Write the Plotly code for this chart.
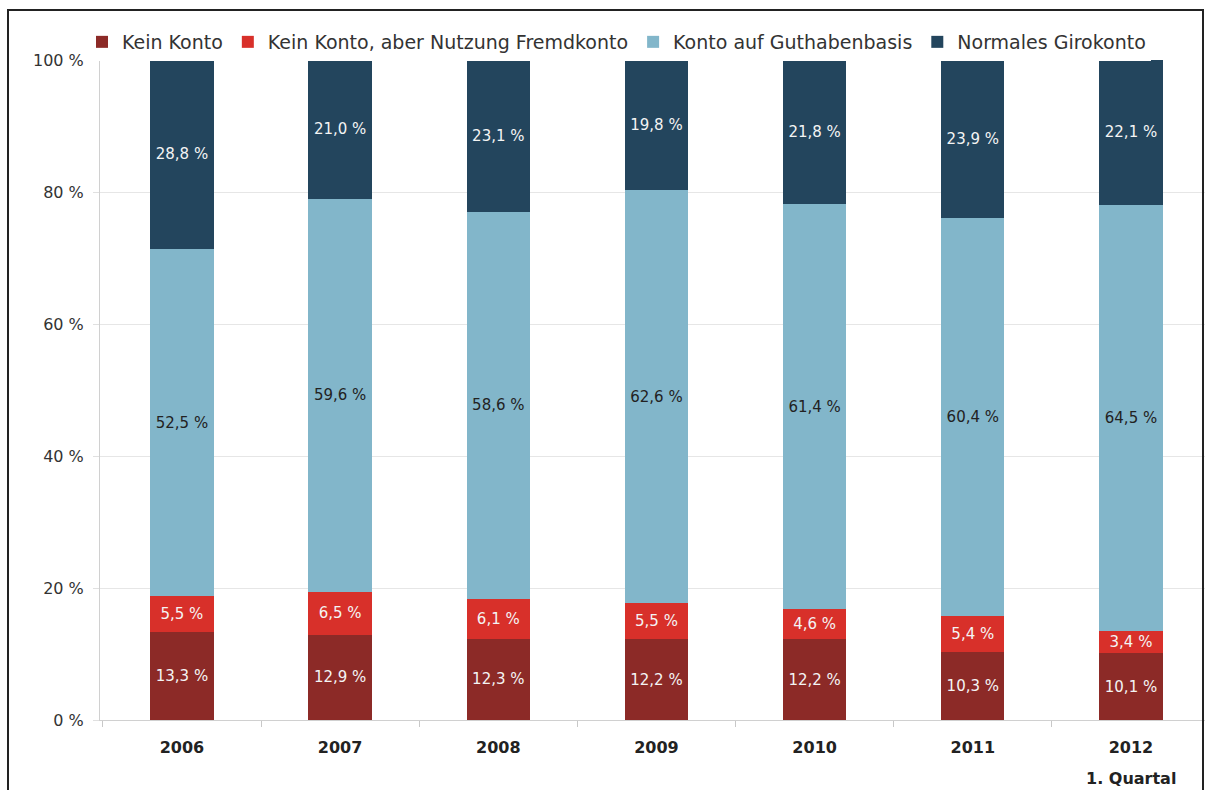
import plotly.graph_objects as go

categories = ["2006", "2007", "2008", "2009", "2010", "2011", "2012"]
tick_labels = ["<b>2006</b>", "<b>2007</b>", "<b>2008</b>", "<b>2009</b>", "<b>2010</b>", "<b>2011</b>", "<b>2012</b>"]
last_subtitle = "<b>1. Quartal</b>"
kein_konto = [13.3, 12.9, 12.3, 12.2, 12.2, 10.3, 10.1]
fremdkonto = [5.5, 6.5, 6.1, 5.5, 4.6, 5.4, 3.4]
guthaben = [52.5, 59.6, 58.6, 62.6, 61.4, 60.4, 64.5]
girokonto = [28.8, 21.0, 23.1, 19.8, 21.8, 23.9, 22.1]
y_ticks = [0, 20, 40, 60, 80, 100]
y_tick_labels = ["0 %", "20 %", "40 %", "60 %", "80 %", "100 %"]

series = [
    ("Kein Konto", kein_konto, "#8C2A27", "#f4f4f4"),
    ("Kein Konto, aber Nutzung Fremdkonto", fremdkonto, "#D8302A", "#f4f4f4"),
    ("Konto auf Guthabenbasis", guthaben, "#82B6CA", "#222222"),
    ("Normales Girokonto", girokonto, "#23455D", "#f4f4f4"),
]

FONT = "DejaVu Sans"

def fmt(v):
    return f"{v:.1f}".replace(".", ",") + " %"

fig = go.Figure()
for name, vals, color, tcolor in series:
    fig.add_trace(go.Bar(
        name=name, x=categories, y=vals,
        marker=dict(color=color, line=dict(width=0)),
        text=[fmt(v) for v in vals], textposition="inside",
        insidetextanchor="middle", textangle=0, constraintext="none",
        textfont=dict(color=tcolor, size=15, family=FONT),
        width=0.4,
    ))

W, H = 1207, 790
L, R, T, B = 100, 2, 60, 70
PW, PH = W - L - R, H - T - B

fig.update_layout(
    barmode="stack",
    width=W, height=H,
    margin=dict(l=L, r=R, t=T, b=B, autoexpand=False),
    plot_bgcolor="white", paper_bgcolor="white",
    font=dict(family=FONT, size=16, color="#333333"),
    legend=dict(orientation="h", x=-18 / PW, y=1 + 18 / PH, xanchor="left", yanchor="middle",
                font=dict(size=19, color="#333333", family=FONT), traceorder="normal"),
    showlegend=True,
)
fig.update_xaxes(
    tickvals=categories, ticktext=tick_labels,
    range=[-0.518, 6.468],
    showline=True, linecolor="#d0d0d0", linewidth=1,
    ticks="outside", tickson="boundaries", ticklen=6, tickcolor="#c8c8c8",
    ticklabelstandoff=13,
    tickfont=dict(size=16, color="#222222", family=FONT),
)
fig.update_yaxes(
    range=[0, 100], tickvals=y_ticks, ticktext=y_tick_labels,
    showgrid=True, gridcolor="#e6e6e6", gridwidth=1,
    showline=True, linecolor="#d0d0d0", linewidth=1,
    ticks="outside", ticklen=6, tickcolor="#e0e0e0",
    ticklabelstandoff=6,
    tickfont=dict(size=16, color="#333333", family=FONT),
    zeroline=False,
)
# second line under the last category label (category index of "2012")
fig.add_annotation(x=len(categories) - 1, y=-58 / PH, xref="x", yref="paper",
                   text=last_subtitle, showarrow=False, yanchor="middle",
                   font=dict(size=16, color="#222222", family=FONT))
# frame around the chart
fig.add_shape(type="rect", xref="paper", yref="paper",
              x0=(8 - L) / PW, x1=(1203 - L) / PW,
              y0=-0.2, y1=(PH + T - 10) / PH,
              line=dict(color="#222222", width=2), fillcolor="rgba(0,0,0,0)", layer="above")

fig.write_html("out.html", config={"displayModeBar": False},
               post_script="document.body.style.margin='0';document.body.style.overflow='hidden';")
